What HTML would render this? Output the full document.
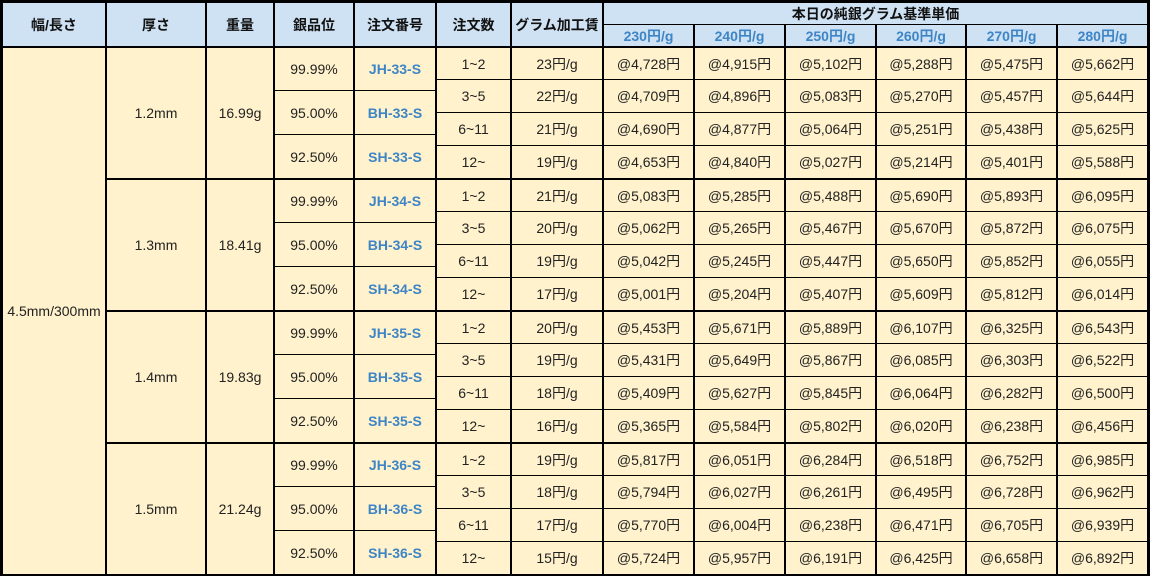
<!DOCTYPE html>
<html><head><meta charset="utf-8"><style>
body{margin:0;background:#fff}
#t{position:relative;width:1150px;height:576px;background:#000;overflow:hidden;font-family:"Liberation Sans","Noto Sans CJK JP",sans-serif;font-size:14px;color:#222}
.c{position:absolute;background:#fff2cc;display:flex;align-items:center;justify-content:center;white-space:nowrap}
.h{background:#cfe2f3;font-weight:bold;font-size:14px;color:#111}
.b{color:#3d85c6;font-weight:bold}
.k0{left:3px;width:102px}.k1{left:107px;width:98px}.k2{left:207px;width:66px}.k3{left:275px;width:78px}
.k4{left:355px;width:80px}.k5{left:437px;width:73px}.k6{left:512px;width:90px}.k7{left:604px;width:89px}
.k8{left:695px;width:89px}.k9{left:786px;width:89px}.k10{left:877px;width:88px}.k11{left:967px;width:89px}.k12{left:1058px;width:89px}
.hd{top:3px;height:43px}.sh{top:25px;height:21px}
.r0{top:48px;height:31px}.r1{top:80px;height:32px}.r2{top:113px;height:32px}.r3{top:146px;height:32px}
.r4{top:180px;height:31px}.r5{top:212px;height:32px}.r6{top:245px;height:32px}.r7{top:278px;height:32px}
.r8{top:312px;height:31px}.r9{top:344px;height:32px}.r10{top:377px;height:32px}.r11{top:410px;height:32px}
.r12{top:444px;height:31px}.r13{top:476px;height:32px}.r14{top:509px;height:32px}.r15{top:542px;height:32px}
.g0{top:48px;height:130px}.g1{top:180px;height:130px}.g2{top:312px;height:130px}.g3{top:444px;height:130px}
.p0{top:48px;height:42px}.p1{top:91px;height:43px}.p2{top:135px;height:43px}
.p3{top:180px;height:42px}.p4{top:223px;height:43px}.p5{top:267px;height:43px}
.p6{top:312px;height:42px}.p7{top:355px;height:43px}.p8{top:399px;height:43px}
.p9{top:444px;height:42px}.p10{top:487px;height:43px}.p11{top:531px;height:43px}
</style></head><body><div id="t">
<div class="c h k0 hd">幅/長さ</div><div class="c h k1 hd">厚さ</div><div class="c h k2 hd">重量</div><div class="c h k3 hd">銀品位</div><div class="c h k4 hd">注文番号</div><div class="c h k5 hd">注文数</div><div class="c h k6 hd">グラム加工賃</div>
<div class="c h" style="left:604px;width:543px;top:3px;height:21px">本日の純銀グラム基準単価</div>
<div class="c h b k7 sh">230円/g</div><div class="c h b k8 sh">240円/g</div><div class="c h b k9 sh">250円/g</div><div class="c h b k10 sh">260円/g</div><div class="c h b k11 sh">270円/g</div><div class="c h b k12 sh">280円/g</div>
<div class="c k0" style="top:48px;height:526px">4.5mm/300mm</div>
<div class="c k1 g0">1.2mm</div><div class="c k2 g0">16.99g</div>
<div class="c k1 g1">1.3mm</div><div class="c k2 g1">18.41g</div>
<div class="c k1 g2">1.4mm</div><div class="c k2 g2">19.83g</div>
<div class="c k1 g3">1.5mm</div><div class="c k2 g3">21.24g</div>
<div class="c k3 p0">99.99%</div><div class="c b k4 p0">JH-33-S</div><div class="c k3 p1">95.00%</div><div class="c b k4 p1">BH-33-S</div><div class="c k3 p2">92.50%</div><div class="c b k4 p2">SH-33-S</div>
<div class="c k3 p3">99.99%</div><div class="c b k4 p3">JH-34-S</div><div class="c k3 p4">95.00%</div><div class="c b k4 p4">BH-34-S</div><div class="c k3 p5">92.50%</div><div class="c b k4 p5">SH-34-S</div>
<div class="c k3 p6">99.99%</div><div class="c b k4 p6">JH-35-S</div><div class="c k3 p7">95.00%</div><div class="c b k4 p7">BH-35-S</div><div class="c k3 p8">92.50%</div><div class="c b k4 p8">SH-35-S</div>
<div class="c k3 p9">99.99%</div><div class="c b k4 p9">JH-36-S</div><div class="c k3 p10">95.00%</div><div class="c b k4 p10">BH-36-S</div><div class="c k3 p11">92.50%</div><div class="c b k4 p11">SH-36-S</div>

<div class="c k5 r0">1~2</div><div class="c k6 r0">23円/g</div><div class="c k7 r0">@4,728円</div><div class="c k8 r0">@4,915円</div><div class="c k9 r0">@5,102円</div><div class="c k10 r0">@5,288円</div><div class="c k11 r0">@5,475円</div><div class="c k12 r0">@5,662円</div>
<div class="c k5 r1">3~5</div><div class="c k6 r1">22円/g</div><div class="c k7 r1">@4,709円</div><div class="c k8 r1">@4,896円</div><div class="c k9 r1">@5,083円</div><div class="c k10 r1">@5,270円</div><div class="c k11 r1">@5,457円</div><div class="c k12 r1">@5,644円</div>
<div class="c k5 r2">6~11</div><div class="c k6 r2">21円/g</div><div class="c k7 r2">@4,690円</div><div class="c k8 r2">@4,877円</div><div class="c k9 r2">@5,064円</div><div class="c k10 r2">@5,251円</div><div class="c k11 r2">@5,438円</div><div class="c k12 r2">@5,625円</div>
<div class="c k5 r3">12~</div><div class="c k6 r3">19円/g</div><div class="c k7 r3">@4,653円</div><div class="c k8 r3">@4,840円</div><div class="c k9 r3">@5,027円</div><div class="c k10 r3">@5,214円</div><div class="c k11 r3">@5,401円</div><div class="c k12 r3">@5,588円</div>

<div class="c k5 r4">1~2</div><div class="c k6 r4">21円/g</div><div class="c k7 r4">@5,083円</div><div class="c k8 r4">@5,285円</div><div class="c k9 r4">@5,488円</div><div class="c k10 r4">@5,690円</div><div class="c k11 r4">@5,893円</div><div class="c k12 r4">@6,095円</div>
<div class="c k5 r5">3~5</div><div class="c k6 r5">20円/g</div><div class="c k7 r5">@5,062円</div><div class="c k8 r5">@5,265円</div><div class="c k9 r5">@5,467円</div><div class="c k10 r5">@5,670円</div><div class="c k11 r5">@5,872円</div><div class="c k12 r5">@6,075円</div>
<div class="c k5 r6">6~11</div><div class="c k6 r6">19円/g</div><div class="c k7 r6">@5,042円</div><div class="c k8 r6">@5,245円</div><div class="c k9 r6">@5,447円</div><div class="c k10 r6">@5,650円</div><div class="c k11 r6">@5,852円</div><div class="c k12 r6">@6,055円</div>
<div class="c k5 r7">12~</div><div class="c k6 r7">17円/g</div><div class="c k7 r7">@5,001円</div><div class="c k8 r7">@5,204円</div><div class="c k9 r7">@5,407円</div><div class="c k10 r7">@5,609円</div><div class="c k11 r7">@5,812円</div><div class="c k12 r7">@6,014円</div>

<div class="c k5 r8">1~2</div><div class="c k6 r8">20円/g</div><div class="c k7 r8">@5,453円</div><div class="c k8 r8">@5,671円</div><div class="c k9 r8">@5,889円</div><div class="c k10 r8">@6,107円</div><div class="c k11 r8">@6,325円</div><div class="c k12 r8">@6,543円</div>
<div class="c k5 r9">3~5</div><div class="c k6 r9">19円/g</div><div class="c k7 r9">@5,431円</div><div class="c k8 r9">@5,649円</div><div class="c k9 r9">@5,867円</div><div class="c k10 r9">@6,085円</div><div class="c k11 r9">@6,303円</div><div class="c k12 r9">@6,522円</div>
<div class="c k5 r10">6~11</div><div class="c k6 r10">18円/g</div><div class="c k7 r10">@5,409円</div><div class="c k8 r10">@5,627円</div><div class="c k9 r10">@5,845円</div><div class="c k10 r10">@6,064円</div><div class="c k11 r10">@6,282円</div><div class="c k12 r10">@6,500円</div>
<div class="c k5 r11">12~</div><div class="c k6 r11">16円/g</div><div class="c k7 r11">@5,365円</div><div class="c k8 r11">@5,584円</div><div class="c k9 r11">@5,802円</div><div class="c k10 r11">@6,020円</div><div class="c k11 r11">@6,238円</div><div class="c k12 r11">@6,456円</div>

<div class="c k5 r12">1~2</div><div class="c k6 r12">19円/g</div><div class="c k7 r12">@5,817円</div><div class="c k8 r12">@6,051円</div><div class="c k9 r12">@6,284円</div><div class="c k10 r12">@6,518円</div><div class="c k11 r12">@6,752円</div><div class="c k12 r12">@6,985円</div>
<div class="c k5 r13">3~5</div><div class="c k6 r13">18円/g</div><div class="c k7 r13">@5,794円</div><div class="c k8 r13">@6,027円</div><div class="c k9 r13">@6,261円</div><div class="c k10 r13">@6,495円</div><div class="c k11 r13">@6,728円</div><div class="c k12 r13">@6,962円</div>
<div class="c k5 r14">6~11</div><div class="c k6 r14">17円/g</div><div class="c k7 r14">@5,770円</div><div class="c k8 r14">@6,004円</div><div class="c k9 r14">@6,238円</div><div class="c k10 r14">@6,471円</div><div class="c k11 r14">@6,705円</div><div class="c k12 r14">@6,939円</div>
<div class="c k5 r15">12~</div><div class="c k6 r15">15円/g</div><div class="c k7 r15">@5,724円</div><div class="c k8 r15">@5,957円</div><div class="c k9 r15">@6,191円</div><div class="c k10 r15">@6,425円</div><div class="c k11 r15">@6,658円</div><div class="c k12 r15">@6,892円</div>
</div></body></html>
